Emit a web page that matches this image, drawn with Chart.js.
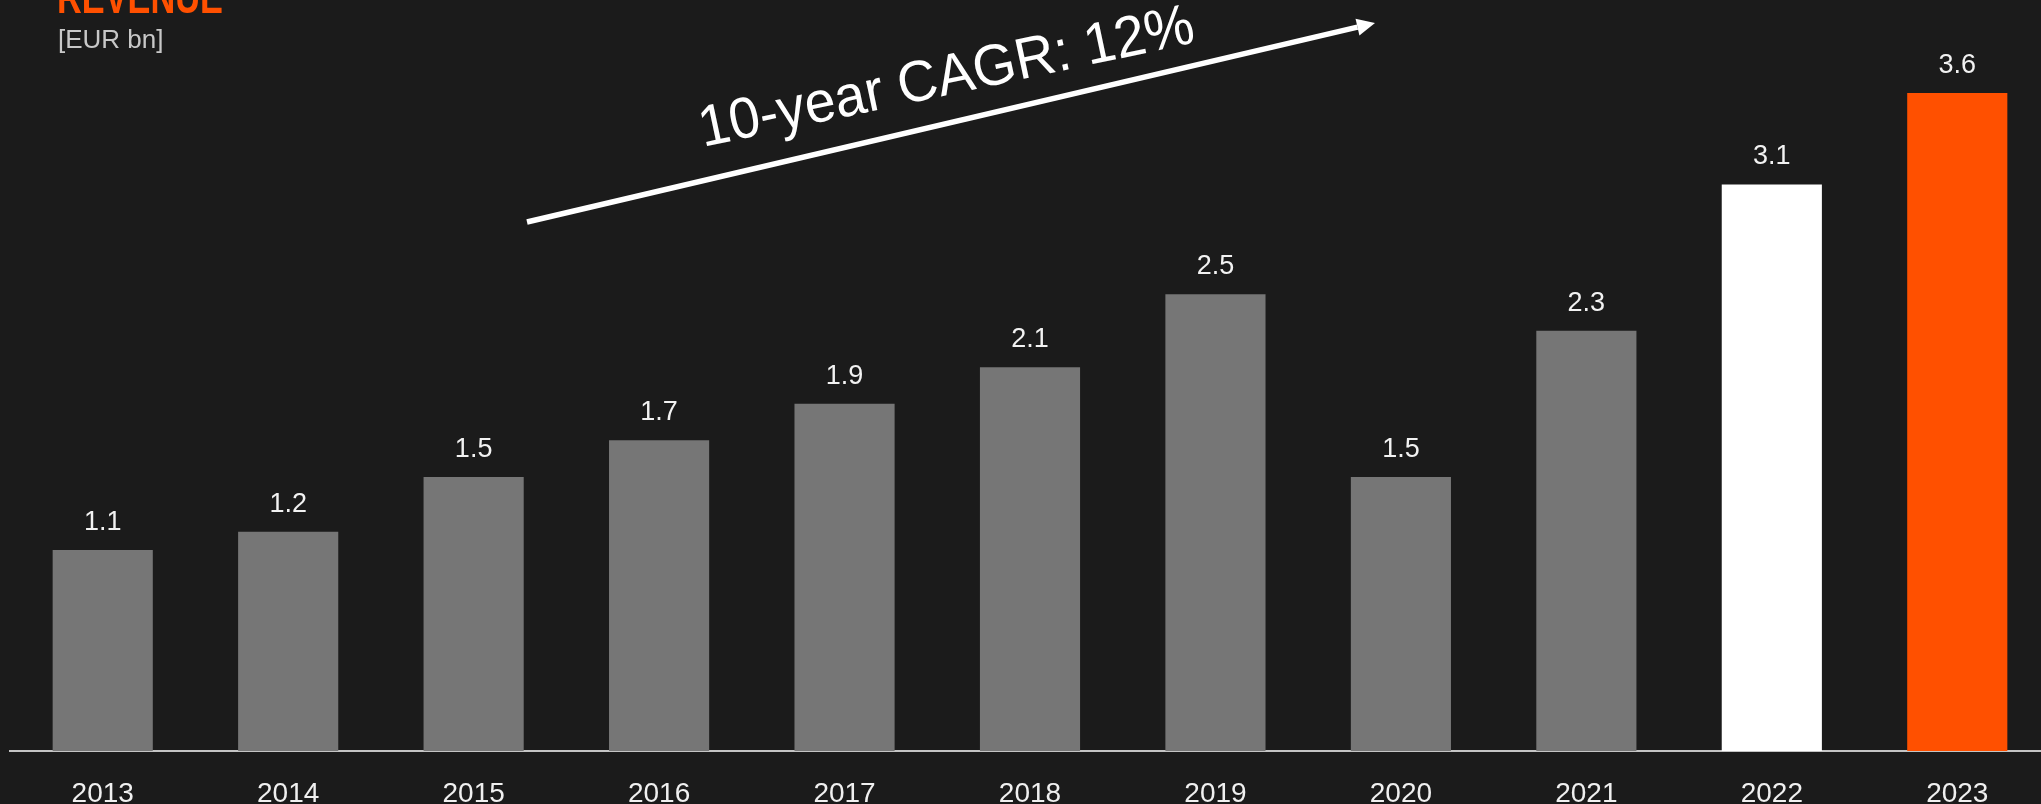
<!DOCTYPE html>
<html>
<head>
<meta charset="utf-8">
<title>Revenue</title>
<script src="https://cdn.jsdelivr.net/npm/chart.js@4.4.1/dist/chart.umd.min.js"></script>
<style>
  html, body { margin: 0; padding: 0; background: #1b1b1b; overflow: hidden; }
  #wrap { position: relative; width: 2050px; height: 804px; }
</style>
</head>
<body>
<div id="wrap"><canvas id="revenueChart"></canvas></div>
<script>
'use strict';

const years = ['2013', '2014', '2015', '2016', '2017', '2018', '2019', '2020', '2021', '2022', '2023'];
const revenue = [1.1, 1.2, 1.5, 1.7, 1.9, 2.1, 2.5, 1.5, 2.3, 3.1, 3.6];
const yAxisMax = 4;

const fontFamily = '"Liberation Sans", Arial, Helvetica, sans-serif';

// last year orange, the one before white, the rest grey
const barColors = years.map((y, i) => {
  if (i === years.length - 1) return '#ff5000';
  if (i === years.length - 2) return '#ffffff';
  return '#767676';
});

// numbers on top of each bar
const valueLabels = {
  id: 'valueLabels',
  afterDatasetsDraw(chart) {
    const c = chart.ctx;
    const meta = chart.getDatasetMeta(0);
    c.save();
    c.font = '27px ' + fontFamily;
    c.fillStyle = '#f2f2f2';
    c.textAlign = 'center';
    c.textBaseline = 'alphabetic';
    meta.data.forEach((bar, i) => {
      c.fillText(revenue[i].toFixed(1), bar.x, bar.y - 20);
    });
    c.restore();
  }
};

// heading, unit and the growth arrow
const headerText = {
  id: 'headerText',
  afterDraw(chart) {
    const c = chart.ctx;

    c.save();
    c.font = 'bold 46px ' + fontFamily;
    c.fillStyle = '#ff5000';
    c.textBaseline = 'alphabetic';
    let w = c.measureText('REVENUE').width;
    c.translate(57, 13);
    c.scale(166 / w, 1);
    c.fillText('REVENUE', 0, 0);
    c.restore();

    c.save();
    c.font = '26px ' + fontFamily;
    c.fillStyle = '#c8c8c8';
    c.textBaseline = 'alphabetic';
    c.fillText('[EUR bn]', 58, 48);
    c.restore();

    // arrow
    const x0 = 527, y0 = 222, x1 = 1375, y1 = 23;
    const ang = Math.atan2(y1 - y0, x1 - x0);
    const head = 18;
    c.save();
    c.strokeStyle = '#ffffff';
    c.fillStyle = '#ffffff';
    c.lineWidth = 5.5;
    c.beginPath();
    c.moveTo(x0, y0);
    c.lineTo(x1 - head * Math.cos(ang), y1 - head * Math.sin(ang));
    c.stroke();
    c.translate(x1, y1);
    c.rotate(ang);
    c.beginPath();
    c.moveTo(0, 0);
    c.lineTo(-head, -8.5);
    c.lineTo(-head, 8.5);
    c.closePath();
    c.fill();
    c.restore();

    const cagr = '10-year CAGR: 12%';
    c.save();
    c.font = '58px ' + fontFamily;
    c.fillStyle = '#ffffff';
    c.textBaseline = 'alphabetic';
    c.translate(703, 147);
    c.rotate(-12 * Math.PI / 180);
    w = c.measureText(cagr).width;
    c.scale(505 / w, 1);
    c.fillText(cagr, 0, 0);
    c.restore();
  }
};

const ctx = document.getElementById('revenueChart');

let revenueChart = new Chart(ctx, {
  type: 'bar',
  data: {
    labels: years,
    datasets: [{
      label: 'Revenue',
      data: revenue,
      backgroundColor: barColors,
      borderWidth: 0,
      barPercentage: 0.54,
      categoryPercentage: 1.0
    }]
  },
  options: {
    responsive: true,
    maintainAspectRatio: false,
    animation: false,
    layout: {
      padding: { top: 20, left: 10, right: 0, bottom: 0 }
    },
    plugins: {
      legend: { display: false },
      tooltip: { enabled: false }
    },
    scales: {
      x: {
        grid: { display: false, drawTicks: false },
        border: { display: true, color: '#c4c4c4', width: 2 },
        ticks: {
          color: '#f0f0f0',
          padding: 26,
          font: { family: fontFamily, size: 28 }
        },
        afterFit(scale) {
          scale.height = 53;
        }
      },
      y: {
        display: false,
        min: 0,
        max: yAxisMax
      }
    }
  },
  plugins: [valueLabels, headerText]
});
</script>
</body>
</html>
